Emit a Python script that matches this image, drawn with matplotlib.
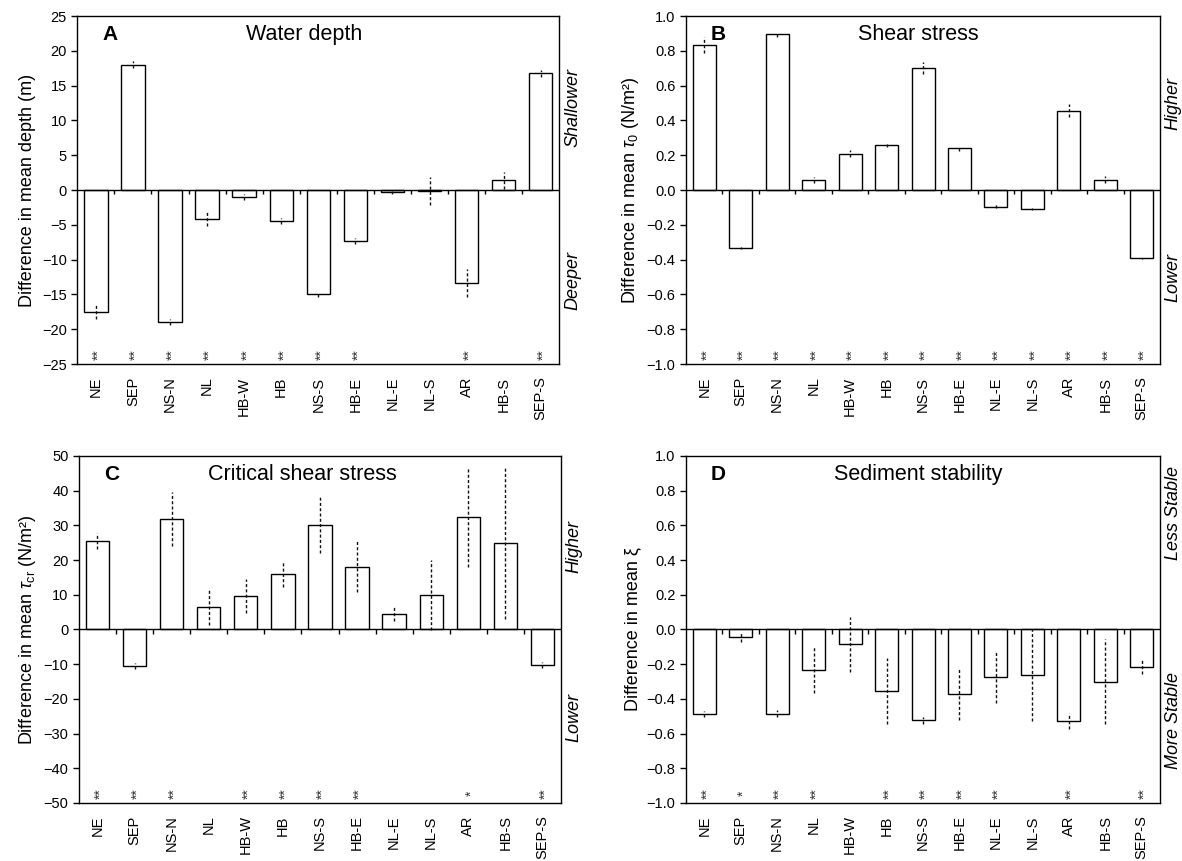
import numpy as np
import matplotlib.pyplot as plt
from matplotlib.ticker import MultipleLocator, FuncFormatter

plt.rcParams["font.family"] = ["Liberation Sans", "DejaVu Sans"]
plt.rcParams["mathtext.fontset"] = "custom"
plt.rcParams["mathtext.rm"] = "Liberation Sans"
plt.rcParams["mathtext.it"] = "Liberation Sans:italic"

sites = ["NE", "SEP", "NS-N", "NL", "HB-W", "HB", "NS-S", "HB-E", "NL-E", "NL-S", "AR", "HB-S", "SEP-S"]

# A: water depth (m)
depth_diff = [-17.5, 18.0, -19.0, -4.1, -1.0, -4.45, -15.0, -7.3, -0.3, -0.15, -13.4, 1.4, 16.8]
depth_err = [1.0, 0.5, 0.4, 1.0, 0.5, 0.4, 0.4, 0.4, 0.2, 2.0, 2.0, 1.2, 0.5]
depth_sig = ["**", "**", "**", "**", "**", "**", "**", "**", "", "", "**", "", "**"]

# B: bed shear stress tau_0 (N/m2)
shear_diff = [0.833, -0.334, 0.896, 0.058, 0.209, 0.257, 0.70, 0.24, -0.096, -0.111, 0.457, 0.058, -0.393]
shear_err = [0.045, 0.005, 0.015, 0.015, 0.02, 0.01, 0.035, 0.015, 0.01, 0.005, 0.04, 0.02, 0.005]
shear_sig = ["**"] * 13

# C: critical shear stress tau_cr (N/m2)
crit_diff = [25.5, -10.5, 31.9, 6.6, 9.6, 15.9, 30.2, 18.1, 4.6, 9.9, 32.4, 25.0, -10.2]
crit_err = [2.3, 0.8, 7.8, 5.3, 4.85, 3.8, 8.2, 7.3, 2.1, 10.0, 14.5, 22.0, 0.8]
crit_sig = ["**", "**", "**", "", "**", "**", "**", "**", "", "", "*", "", "**"]

# D: sediment stability xi
stab_diff = [-0.487, -0.044, -0.485, -0.234, -0.086, -0.353, -0.524, -0.372, -0.273, -0.265, -0.526, -0.30, -0.215]
stab_err = [0.015, 0.03, 0.02, 0.133, 0.16, 0.19, 0.02, 0.15, 0.15, 0.265, 0.045, 0.245, 0.043]
stab_sig = ["**", "*", "**", "**", "", "**", "**", "**", "**", "", "**", "", "**"]


def minus_fmt(decimals):
    return FuncFormatter(lambda v, p: f"{v:.{decimals}f}".replace("-", "\u2212"))


def draw_panel(ax, vals, errs, sig, ylim, step, decimals, ylabel, letter, title, title_x,
               up_txt, down_txt, up_y, down_y):
    x = np.arange(len(sites))
    vals = np.array(vals)
    errs = np.array(errs)
    span = ylim[1] - ylim[0]

    ax.bar(x, vals, width=0.63, color="white", edgecolor="black", linewidth=1.0, zorder=2)
    ax.vlines(x, vals - errs, vals + errs, colors="#111111", linewidth=1.0,
              linestyles=(0, (2.2, 1.6)), zorder=3)
    ax.axhline(0, color="black", linewidth=1.0, zorder=4)
    # category dividers hanging off the zero line
    ax.vlines(x[:-1] + 0.5, -0.012 * span, 0, colors="black", linewidth=1.0, zorder=4)

    # significance stars, written sideways like the site names
    for xi, s in zip(x, sig):
        if s:
            ax.text(xi + 0.08, ylim[0] + 0.027 * span, s, ha="center", va="center",
                    rotation=90, fontsize=10, color="#333333")

    ax.set_xlim(-0.5, len(sites) - 0.5)
    ax.set_ylim(*ylim)
    ax.yaxis.set_major_locator(MultipleLocator(step))
    ax.yaxis.set_major_formatter(minus_fmt(decimals))
    ax.set_xticks(x)
    ax.set_xticklabels(sites, rotation=90)
    ax.tick_params(axis="x", length=0, pad=9, labelsize=10.5)
    ax.tick_params(axis="y", direction="out", length=4, width=1, labelsize=10.5)
    for sp in ax.spines.values():
        sp.set_linewidth(1.0)

    ax.set_ylabel(ylabel, fontsize=13)
    ax.text(0.068, 0.948, letter, transform=ax.transAxes, ha="center", va="center",
            fontsize=15, fontweight="bold")
    ax.text(title_x, 0.948, title, transform=ax.transAxes, ha="center", va="center", fontsize=15.5)
    for txt, yy in ((up_txt, up_y), (down_txt, down_y)):
        ax.annotate(txt, xy=(1, yy), xycoords="axes fraction", xytext=(9.5, 0),
                    textcoords="offset points", rotation=90, ha="center", va="center",
                    fontsize=13, style="italic")


fig = plt.figure(figsize=(11.82, 8.61), dpi=100)
axA = fig.add_axes([0.0654, 0.5772, 0.4078, 0.4042])
axB = fig.add_axes([0.5804, 0.5772, 0.401, 0.4042])
axC = fig.add_axes([0.0668, 0.0674, 0.4078, 0.403])
axD = fig.add_axes([0.5804, 0.0674, 0.401, 0.403])

draw_panel(axA, depth_diff, depth_err, depth_sig, (-25, 25), 5, 0,
           "Difference in mean depth (m)", "A", "Water depth", 0.471,
           "Shallower", "Deeper", 0.736, 0.241)
draw_panel(axB, shear_diff, shear_err, shear_sig, (-1.0, 1.0), 0.2, 1,
           r"Difference in mean $\tau_0$ (N/m²)", "B", "Shear stress", 0.49,
           "Higher", "Lower", 0.75, 0.25)
draw_panel(axC, crit_diff, crit_err, crit_sig, (-50, 50), 10, 0,
           r"Difference in mean $\tau_{\rm cr}$ (N/m²)", "C", "Critical shear stress", 0.464,
           "Higher", "Lower", 0.738, 0.245)
draw_panel(axD, stab_diff, stab_err, stab_sig, (-1.0, 1.0), 0.2, 1,
           "Difference in mean ξ", "D", "Sediment stability", 0.49,
           "Less Stable", "More Stable", 0.836, 0.239)

fig.savefig("out.png", dpi=100)
